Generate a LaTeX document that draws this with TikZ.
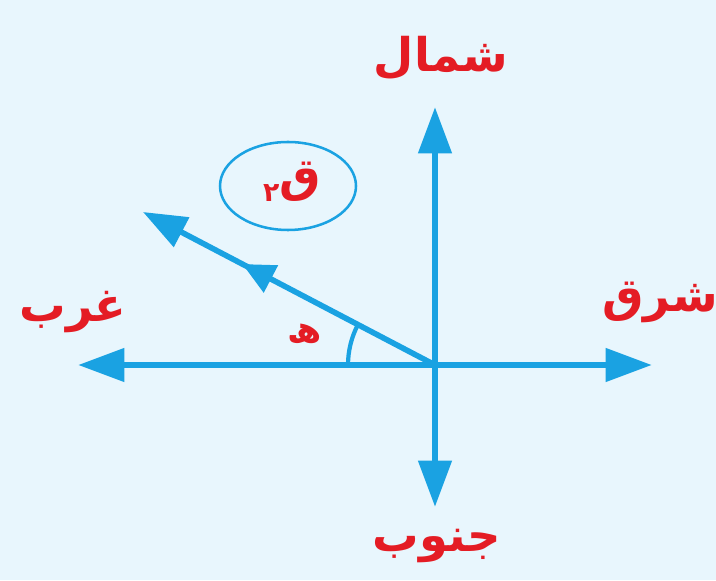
\documentclass[tikz,border=0pt]{standalone}
\usepackage{fontspec}
\usetikzlibrary{arrows.meta,decorations.markings}
\newfontfamily\arabicfont[Script=Arabic]{DejaVu Sans}
\TeXXeTstate=1
\definecolor{skyaxis}{RGB}{26,162,226}
\definecolor{labelred}{RGB}{228,28,36}
\definecolor{paleback}{RGB}{232,246,253}

\begin{document}
\begin{tikzpicture}[
    x=0.025cm, y=0.025cm,
    axis/.style={draw=skyaxis, line width=4.8pt,
                 -{Triangle[length=33pt,width=23pt]}},
    force/.style={draw=skyaxis, line width=4pt,
                  -{Triangle[length=31pt,width=23pt]},
                  postaction={decorate},
                  decoration={markings, mark=at position 0.66 with
                    {\arrow{Triangle[length=23pt,width=21pt]}}}},
    anglearc/.style={draw=skyaxis, line width=3pt},
    dirlabel/.style={text=labelred, font=\arabicfont\bfseries\fontsize{33}{38}\selectfont},
    namering/.style={draw=skyaxis, line width=1.8pt}
]
\fill[paleback] (0,0) rectangle (716,580);
\useasboundingbox (0,0) rectangle (716,580);

\coordinate (O) at (435,215);
\coordinate (east) at (652,215);
\coordinate (west) at (78,215);
\coordinate (north) at (435,473);
\coordinate (south) at (435,73);
\coordinate (tip) at (143,368);

\draw[axis] (O) -- (east);
\draw[axis] (O) -- (west);
\draw[axis] (O) -- (north);
\draw[axis] (O) -- (south);
\draw[force] (O) -- (tip);

% angle between the force and the west axis
\draw[anglearc] (O) ++(152.35:87) arc[start angle=152.35, end angle=180, radius=87];

\node[dirlabel] (northlbl) at (441,522) {\beginR شمال\endR};
\node[dirlabel] (southlbl) at (437,34) {\beginR جنوب\endR};
\node[dirlabel, inner sep=0pt] (eastlbl) at (660,278) {\beginR شرق\endR};
\node[dirlabel] (westlbl) at (73,268) {\beginR غرب\endR};
\node[dirlabel, font=\arabicfont\bfseries\fontsize{26}{30}\selectfont] (anglelbl) at (305,246) {\beginR ھ\endR};

\draw[namering] (288,394) ellipse [x radius=68, y radius=44];
\node[dirlabel] (forcelbl) at (292,398) {\beginR ق\raisebox{-0.4ex}{\fontsize{19}{22}\selectfont ٢}\endR};
\end{tikzpicture}
\end{document}
